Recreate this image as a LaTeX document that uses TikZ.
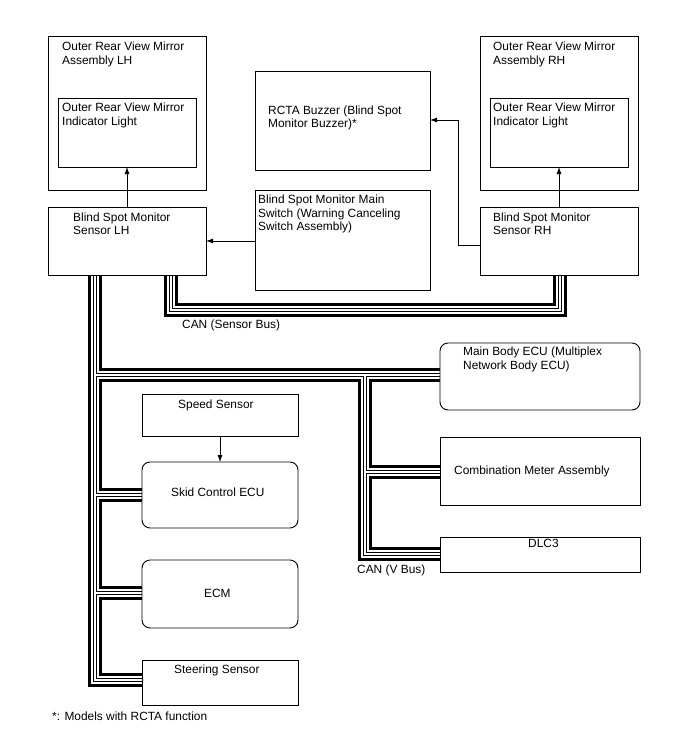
\documentclass[tikz,border=0pt]{standalone}
\usepackage{fontspec}
\setmainfont{Liberation Sans}
\usetikzlibrary{arrows.meta}
\begin{document}
\begin{tikzpicture}[x=1pt,y=-1pt,
  box/.style={draw, line width=0.9pt, fill=white, anchor=north west, inner sep=0pt, outer sep=0pt},
  rbox/.style={box, rounded corners=8pt},
  lbl/.style={anchor=north west, inner sep=0pt, align=left, font=\fontsize{11.9}{13.5}\selectfont},
  bl/.style={anchor=base west, inner sep=0pt, font=\fontsize{11.9}{13.5}\selectfont},
  arr/.style={line width=0.8pt, -{Latex[length=7pt,width=5pt]}},
  busline/.style={line join=miter, line cap=butt}
]
\useasboundingbox (0,0) rectangle (688,755);
% boxes (drawn first invisibly to get anchors)
\path
  node[box, draw=none, fill=none, minimum width=158pt, minimum height=68pt] (sLH) at (48,207) {}
  node[box, draw=none, fill=none, minimum width=158pt, minimum height=68pt] (sRH) at (480,207) {}
  node[box, draw=none, fill=none, minimum width=200pt, minimum height=67pt] (mb) at (440,343) {}
  node[box, draw=none, fill=none, minimum width=200pt, minimum height=68pt] (cm) at (440,437) {}
  node[box, draw=none, fill=none, minimum width=200pt, minimum height=35pt] (dlc) at (440,537) {}
  node[box, draw=none, fill=none, minimum width=156pt, minimum height=66pt] (skid) at (142,462) {}
  node[box, draw=none, fill=none, minimum width=156pt, minimum height=68pt] (ecm) at (142,560) {}
  node[box, draw=none, fill=none, minimum width=156pt, minimum height=45pt] (str) at (142,660) {};
% named bus points
\coordinate (tL) at (95,0);
\coordinate (tV) at (365,0);
\coordinate (sbL) at (170.5,0);
\coordinate (sbR) at (560,0);
\coordinate (cL1) at (95,680);
\coordinate (jMB) at (95,375);
\coordinate (jV) at (365,375);
\coordinate (cV) at (365,554);
\coordinate (jCM) at (365,472);
\coordinate (jSK) at (95,495);
\coordinate (jEC) at (95,593);
\coordinate (sb1) at (170.5,309.5);
\coordinate (sb2) at (560,309.5);
% buses (layered)
\foreach \bw/\bc in {14/black,8/white,4/black,2/white}{
  \draw[busline, line width=\bw pt, draw=\bc]
    (sLH.south -| tL) -- (cL1) -- (str.west |- cL1)
    (jMB) -- (mb.west |- jMB)
    (jV) -- (cV) -- (dlc.west |- cV)
    (jCM) -- (cm.west |- jCM)
    (jSK) -- (skid.west |- jSK)
    (jEC) -- (ecm.west |- jEC)
    (sLH.south -| sbL) -- (sb1) -- (sb2) -- (sRH.south -| sbR);
}
% visible boxes
\node[box, minimum width=158pt, minimum height=154pt] (asmL) at (48,36) {};
\node[box, minimum width=138pt, minimum height=69pt] (indL) at (58,98) {};
\node[box, minimum width=158pt, minimum height=68pt] (sLHb) at (48,207) {};
\node[box, minimum width=175pt, minimum height=99pt] (buz) at (255,71) {};
\node[box, minimum width=175pt, minimum height=100pt] (sw) at (255,190) {};
\node[box, minimum width=158pt, minimum height=154pt] (asmR) at (480,36) {};
\node[box, minimum width=138pt, minimum height=69pt] (indR) at (490,98) {};
\node[box, minimum width=158pt, minimum height=68pt] (sRHb) at (480,207) {};
\node[rbox, minimum width=200pt, minimum height=67pt] (mbb) at (440,343) {};
\node[box, minimum width=200pt, minimum height=68pt] (cmb) at (440,437) {};
\node[box, minimum width=200pt, minimum height=35pt] (dlcb) at (440,537) {};
\node[box, minimum width=156pt, minimum height=42pt] (spd) at (142,394) {};
\node[rbox, minimum width=156pt, minimum height=66pt] (skidb) at (142,462) {};
\node[rbox, minimum width=156pt, minimum height=68pt] (ecmb) at (142,560) {};
\node[box, minimum width=156pt, minimum height=45pt] (strb) at (142,660) {};
% texts
\node[lbl] (tAsmL) at (62,42) {Outer Rear View Mirror\\Assembly LH};
\node[lbl] (tIndL) at (62,103) {Outer Rear View Mirror\\Indicator Light};
\node[lbl] (tSLH) at (73,212.3) {Blind Spot Monitor\\Sensor LH};
\node[lbl] (tBuz) at (268,105.4) {RCTA Buzzer (Blind Spot\\Monitor Buzzer)*};
\node[lbl] (tSw) at (258,194.7) {Blind Spot Monitor Main\\Switch (Warning Canceling\\Switch Assembly)};
\node[lbl] (tAsmR) at (493,42) {Outer Rear View Mirror\\Assembly RH};
\node[lbl] (tIndR) at (493,103) {Outer Rear View Mirror\\Indicator Light};
\node[lbl] (tSRH) at (493,212.3) {Blind Spot Monitor\\Sensor RH};
\node[lbl] (tMB) at (463,347) {Main Body ECU (Multiplex\\Network Body ECU)};
\node[bl] (tCM) at (454,474) {Combination Meter Assembly};
\node[bl] (tDLC) at (528,547) {DLC3};
\node[bl] (tCANV) at (357,573.5) {CAN (V Bus)};
\node[bl] (tCANS) at (182,328.5) {CAN (Sensor Bus)};
\node[bl] (tSpd) at (178,408.5) {Speed Sensor};
\node[bl] (tSkid) at (171,496.5) {Skid Control ECU};
\node[bl] (tECM) at (204,597) {ECM};
\node[bl] (tStr) at (174,673.5) {Steering Sensor};
\node[bl] (tNote) at (52,720) {*: Models with RCTA function};
% arrows
\coordinate (bend) at (458,0);
\coordinate (yBuz) at (0,120);
\coordinate (ySRH) at (0,245);
\coordinate (ySW) at (0,241);
\draw[arr] (sLHb.north) -- (indL.south);
\draw[arr] (sRHb.north) -- (indR.south);
\draw[arr] (sw.west |- ySW) -- (sLHb.east |- ySW);
\draw[arr] (sRHb.west |- ySRH) -| (bend |- yBuz) -- (buz.east |- yBuz);
\draw[arr] (spd.south) -- (skidb.north);
\end{tikzpicture}
\end{document}
